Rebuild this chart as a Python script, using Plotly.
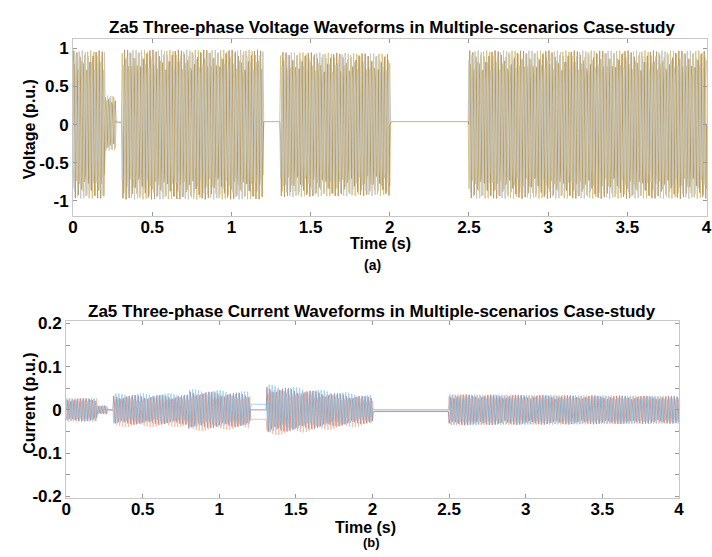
import numpy as np
import plotly.graph_objects as go

# ---------------- data ----------------
f_grid = 50.0                      # Hz, network frequency
fs_record = 206.0                  # Hz, recorder sampling rate of the plotted trace
seg_start = [0.00, 0.20, 0.27, 0.31, 0.80, 1.20, 1.31, 2.00, 2.50]
seg_end   = [0.20, 0.27, 0.31, 0.80, 1.20, 1.31, 2.00, 2.50, 4.00]

# voltage envelope (p.u.) at start / end of each segment, and dc level
volt_amp_start = [0.97, 0.36, 0.00, 0.98, 0.98, 0.00, 0.95, 0.00, 0.97]
volt_amp_end   = [0.97, 0.36, 0.00, 0.98, 0.98, 0.00, 0.93, 0.00, 0.97]
volt_dc        = [0.00, 0.02, 0.03, 0.00, 0.00, 0.04, 0.00, 0.04, 0.00]

# current envelope (p.u.) per segment and dc level per phase
curr_amp_start = [0.027, 0.010, 0.000, 0.034, 0.044, 0.000, 0.055, 0.000, 0.036]
curr_amp_end   = [0.027, 0.010, 0.000, 0.034, 0.038, 0.000, 0.030, 0.000, 0.032]
curr_dc_a      = [0.000, 0.000, 0.000, 0.004, 0.004, 0.013, 0.004, 0.000, 0.000]
curr_dc_b      = [0.000, 0.000, 0.000, 0.000, 0.000, 0.000, 0.000, -0.004, 0.000]
curr_dc_c      = [0.000, 0.000, 0.000, -0.006, -0.006, -0.022, -0.006, 0.000, 0.000]

phase_names  = ["Phase A", "Phase B", "Phase C"]
phase_shift  = [0.0, -120.0, 120.0]   # degrees
volt_colors  = ["#b8965a", "#d8c27c", "#c4c6be"]
curr_colors  = ["#72bde8", "#8e5a70", "#f1a284"]

x_ticks = [0, 0.5, 1, 1.5, 2, 2.5, 3, 3.5, 4]
x_tick_text = ["0", "0.5", "1", "1.5", "2", "2.5", "3", "3.5", "4"]
v_ticks = [-1, -0.5, 0, 0.5, 1]
v_tick_text = ["-1", "-0.5", "0", "0.5", "1"]
i_ticks = [-0.2, -0.1, 0, 0.1, 0.2]
i_tick_text = ["-0.2", "-0.1", "0", "0.1", "0.2"]

# ---------------- build waveforms ----------------
t = np.arange(0, 4.0 + 1e-9, 1 / fs_record)
idx = np.clip(np.searchsorted(np.array(seg_end), t, side="right"), 0, len(seg_end) - 1)
s0 = np.array(seg_start)[idx]
s1 = np.array(seg_end)[idx]
frac = (t - s0) / (s1 - s0)


def envelope(a0, a1):
    a0 = np.array(a0)[idx]
    a1 = np.array(a1)[idx]
    return a0 + (a1 - a0) * frac


v_env = envelope(volt_amp_start, volt_amp_end)
v_dc = np.array(volt_dc)[idx]
i_env = envelope(curr_amp_start, curr_amp_end)
i_dcs = [np.array(curr_dc_a)[idx], np.array(curr_dc_b)[idx], np.array(curr_dc_c)[idx]]

fig = go.Figure()
for k in [1, 0, 2]:
    ph = np.deg2rad(phase_shift[k])
    v = v_env * np.sin(2 * np.pi * f_grid * t + ph) + v_dc
    fig.add_trace(go.Scatter(x=t, y=v, mode="lines", name=phase_names[k],
                             line=dict(color=volt_colors[k], width=1),
                             opacity=0.95, xaxis="x", yaxis="y", showlegend=False))
for k in [1, 2, 0]:
    ph = np.deg2rad(phase_shift[k])
    i = i_env * np.sin(2 * np.pi * f_grid * t + ph) + i_dcs[k]
    fig.add_trace(go.Scatter(x=t, y=i, mode="lines", name=phase_names[k],
                             line=dict(color=curr_colors[k], width=1),
                             opacity=0.65, xaxis="x2", yaxis="y2", showlegend=False))

FONT = "Liberation Sans, Arial, sans-serif"
tickfont = dict(family=FONT, size=17, color="black")
axcol = "#c8c8c8"

common_x = dict(range=[0, 4.003], tickvals=x_ticks,
                ticktext=["<b>%s</b>" % s for s in x_tick_text], tickfont=tickfont,
                ticklabelstandoff=-5,
                showgrid=False, zeroline=False, showline=True, linecolor=axcol, linewidth=1,
                mirror="ticks", ticks="inside", ticklen=4, tickcolor="#999")
fig.update_layout(
    width=712, height=557,
    margin=dict(l=0, r=0, t=0, b=0),
    paper_bgcolor="white", plot_bgcolor="white",
    font=dict(family=FONT),
    xaxis=dict(domain=[69 / 712, 1.0], anchor="y", **common_x),
    yaxis=dict(domain=[1 - 215 / 557, 1 - 33 / 557], anchor="x", range=[-1.2, 1.12],
               tickvals=v_ticks, ticktext=["<b>%s</b>" % s for s in v_tick_text],
               tickfont=tickfont,
               showgrid=False, zeroline=False, showline=True, linecolor=axcol,
               mirror="ticks", ticks="inside", ticklen=4, tickcolor="#999"),
    xaxis2=dict(domain=[62 / 712, 684 / 712], anchor="y2", **common_x),
    yaxis2=dict(domain=[1 - 505 / 557, 1 - 323 / 557], anchor="x2", range=[-0.205, 0.205],
                tickvals=i_ticks, ticktext=["<b>%s</b>" % s for s in i_tick_text],
                tickfont=tickfont,
                showgrid=False, zeroline=False, showline=True, linecolor=axcol,
                mirror="ticks", ticks="inside", ticklen=4, tickcolor="#999",
                minor=dict(dtick=0.05, ticks="inside", ticklen=4, tickcolor="#999")),
)


def label(text, x, y, size=14, angle=0):
    fig.add_annotation(text=text, x=x / 712, y=1 - y / 557, xref="paper", yref="paper",
                       showarrow=False, textangle=angle,
                       font=dict(family=FONT, size=size, color="black"),
                       xanchor="center", yanchor="middle")


label("<b>Za5 Three-phase Voltage Waveforms in Multiple-scenarios Case-study</b>", 393, 21, 17)
label("<b>Za5 Three-phase Current Waveforms in Multiple-scenarios Case-study</b>", 372, 313, 17)
label("<b>Time (s)</b>", 381, 243, 16)
label("<b>(a)</b>", 373, 265, 14)
label("<b>Time (s)</b>", 366, 535, 16)
label("<b>(b)</b>", 372, 550, 13)
label("<b>Voltage (p.u.)</b>", 25, 126, 16, -90)
label("<b>Current (p.u.)</b>", 24, 407, 16, -90)

fig.write_html("out.html", config={"displayModeBar": False},
               post_script="document.body.style.margin='0px';")
